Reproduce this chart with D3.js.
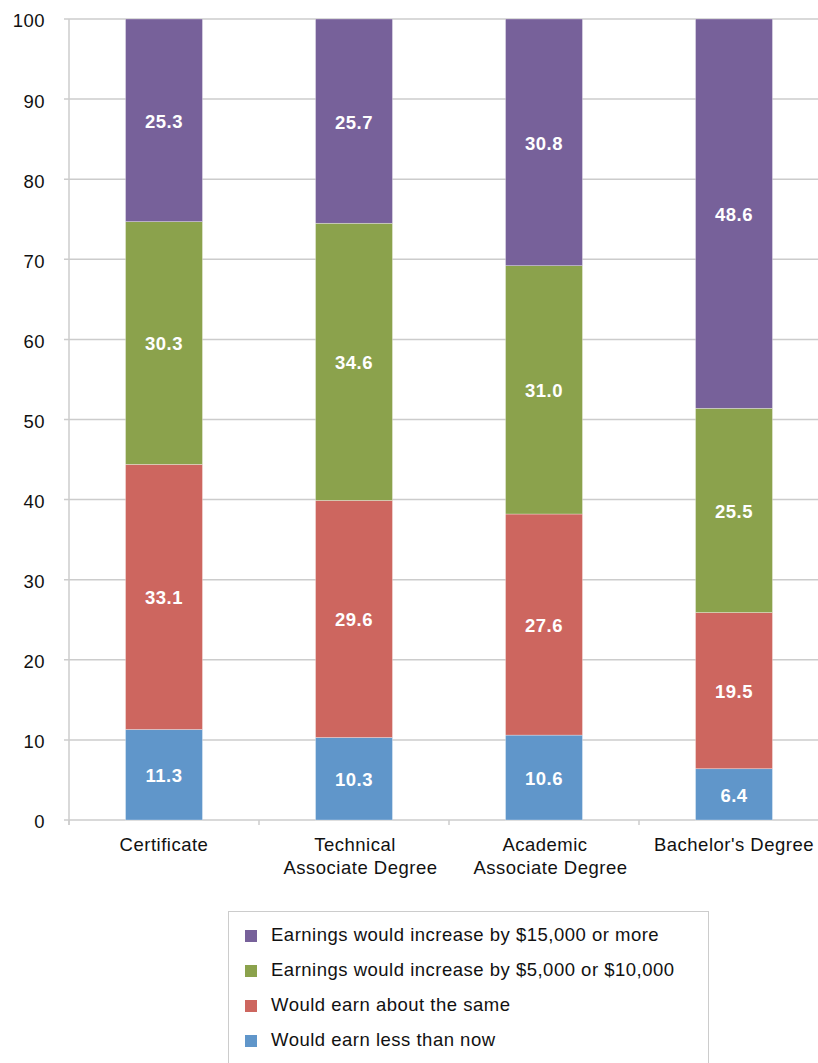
<!DOCTYPE html>
<html>
<head>
<meta charset="utf-8">
<script src="https://cdn.jsdelivr.net/npm/d3@7"></script>
<style>
  html, body { margin: 0; padding: 0; background: #fff; }
  svg { display: block; font-family: "Liberation Sans", Arial, Helvetica, sans-serif; }
</style>
</head>
<body>
<svg id="chart" width="818" height="1063"></svg>
<script>
// Categories (x axis) and their label lines
const categories = ["Certificate", "Technical Associate Degree", "Academic Associate Degree", "Bachelor's Degree"];
const categoryLines = [["Certificate"], ["Technical", "Associate Degree"], ["Academic", "Associate Degree"], ["Bachelor's Degree"]];

// Series, bottom to top of each stack
const seriesNames = [
  "Would earn less than now",
  "Would earn about the same",
  "Earnings would increase by $5,000 or $10,000",
  "Earnings would increase by $15,000 or more"
];
const lessThanNow   = [11.3, 10.3, 10.6, 6.4];
const aboutSame     = [33.1, 29.6, 27.6, 19.5];
const increase5to10 = [30.3, 34.6, 31.0, 25.5];
const increase15    = [25.3, 25.7, 30.8, 48.6];
const seriesValues = [lessThanNow, aboutSame, increase5to10, increase15];

const seriesColors = ["#6096ca", "#cd665f", "#8ba24c", "#77619a"];
const yTicks = [0, 10, 20, 30, 40, 50, 60, 70, 80, 90, 100];

const fontSize = 18.5, tracking = 0.5;

const svg = d3.select("#chart");
const plotLeft = 69, plotTop = 19, plotBottom = 820, bandStep = 190;

const x = d3.scaleBand()
  .domain(categories)
  .range([plotLeft, plotLeft + bandStep * categories.length])
  .paddingInner(0.595)
  .paddingOuter(0.2975);

const y = d3.scaleLinear().domain([0, 100]).range([plotBottom, plotTop]);

// Clip the plotting region at 100
svg.append("clipPath").attr("id", "plotClip")
  .append("rect").attr("x", 0).attr("y", plotTop).attr("width", 818).attr("height", plotBottom - plotTop + 1);

// Gridlines
svg.append("g")
  .selectAll("line")
  .data(yTicks)
  .join("line")
  .attr("x1", plotLeft - 5).attr("x2", 818)
  .attr("y1", d => y(d)).attr("y2", d => y(d))
  .attr("stroke", "#cccccc").attr("stroke-width", 1.5);

// Y axis line
svg.append("line")
  .attr("x1", plotLeft).attr("x2", plotLeft)
  .attr("y1", plotTop).attr("y2", plotBottom + 5)
  .attr("stroke", "#cccccc").attr("stroke-width", 1.5);

// Category separator ticks below the baseline
const sepTicks = d3.range(categories.length).map(i => plotLeft + i * bandStep);
svg.append("g")
  .selectAll("line")
  .data(sepTicks)
  .join("line")
  .attr("x1", d => d).attr("x2", d => d)
  .attr("y1", plotBottom).attr("y2", plotBottom + 5)
  .attr("stroke", "#cccccc").attr("stroke-width", 1.5);

// Y tick labels
svg.append("g")
  .selectAll("text")
  .data(yTicks)
  .join("text")
  .attr("x", 45)
  .attr("y", d => y(d) + 2)
  .attr("dy", "0.35em")
  .attr("text-anchor", "end")
  .attr("font-size", fontSize)
  .attr("letter-spacing", tracking)
  .attr("fill", "#111")
  .text(d => d);

// Stacked data
const rows = categories.map((c, i) => {
  const r = { category: c };
  seriesNames.forEach((s, j) => { r[s] = seriesValues[j][i]; });
  return r;
});
const stacked = d3.stack().keys(seriesNames)(rows);

const barLayer = svg.append("g").attr("clip-path", "url(#plotClip)");
stacked.forEach((layer, j) => {
  barLayer.append("g")
    .selectAll("rect")
    .data(layer)
    .join("rect")
    .attr("x", d => x(d.data.category))
    .attr("width", x.bandwidth())
    .attr("y", d => y(Math.min(d[1], 100)))
    .attr("height", d => y(d[0]) - y(Math.min(d[1], 100)))
    .attr("fill", seriesColors[j])
    .attr("stroke", "#ffffff")
    .attr("stroke-opacity", 0.5)
    .attr("stroke-width", 0.6);
});

// Value labels
stacked.forEach((layer, j) => {
  svg.append("g")
    .selectAll("text")
    .data(layer)
    .join("text")
    .attr("x", d => x(d.data.category) + x.bandwidth() / 2)
    .attr("y", d => y((d[0] + Math.min(d[1], 100)) / 2) + 1)
    .attr("dy", "0.35em")
    .attr("text-anchor", "middle")
    .attr("font-size", fontSize)
    .attr("letter-spacing", tracking)
    .attr("font-weight", "bold")
    .attr("fill", "#ffffff")
    .text(d => (d[1] - d[0]).toFixed(1));
});

// X category labels (second line sits slightly right of the first)
categories.forEach((c, i) => {
  const cx = x(c) + x.bandwidth() / 2;
  const t = svg.append("text")
    .attr("x", cx)
    .attr("y", 851)
    .attr("text-anchor", "middle")
    .attr("font-size", fontSize)
    .attr("letter-spacing", tracking)
    .attr("fill", "#111");
  categoryLines[i].forEach((line, k) => {
    t.append("tspan")
      .attr("x", k === 0 ? cx + (categoryLines[i].length > 1 ? 1 : 0) : cx + 6.5)
      .attr("dy", k === 0 ? 0 : 23)
      .text(line);
  });
});

// Legend
const legend = svg.append("g");
legend.append("rect")
  .attr("x", 228.5).attr("y", 911.5)
  .attr("width", 480).attr("height", 170)
  .attr("fill", "#fff").attr("stroke", "#cccccc").attr("stroke-width", 1);

const legendOrder = [3, 2, 1, 0];
legendOrder.forEach((j, k) => {
  const cy = 936 + k * 35;
  legend.append("rect")
    .attr("x", 245).attr("y", cy - 6)
    .attr("width", 12).attr("height", 12)
    .attr("fill", seriesColors[j]);
  legend.append("text")
    .attr("x", 271).attr("y", cy - 1.5)
    .attr("dy", "0.35em")
    .attr("font-size", fontSize)
    .attr("letter-spacing", tracking)
    .attr("fill", "#111")
    .text(seriesNames[j]);
});
</script>
</body>
</html>
